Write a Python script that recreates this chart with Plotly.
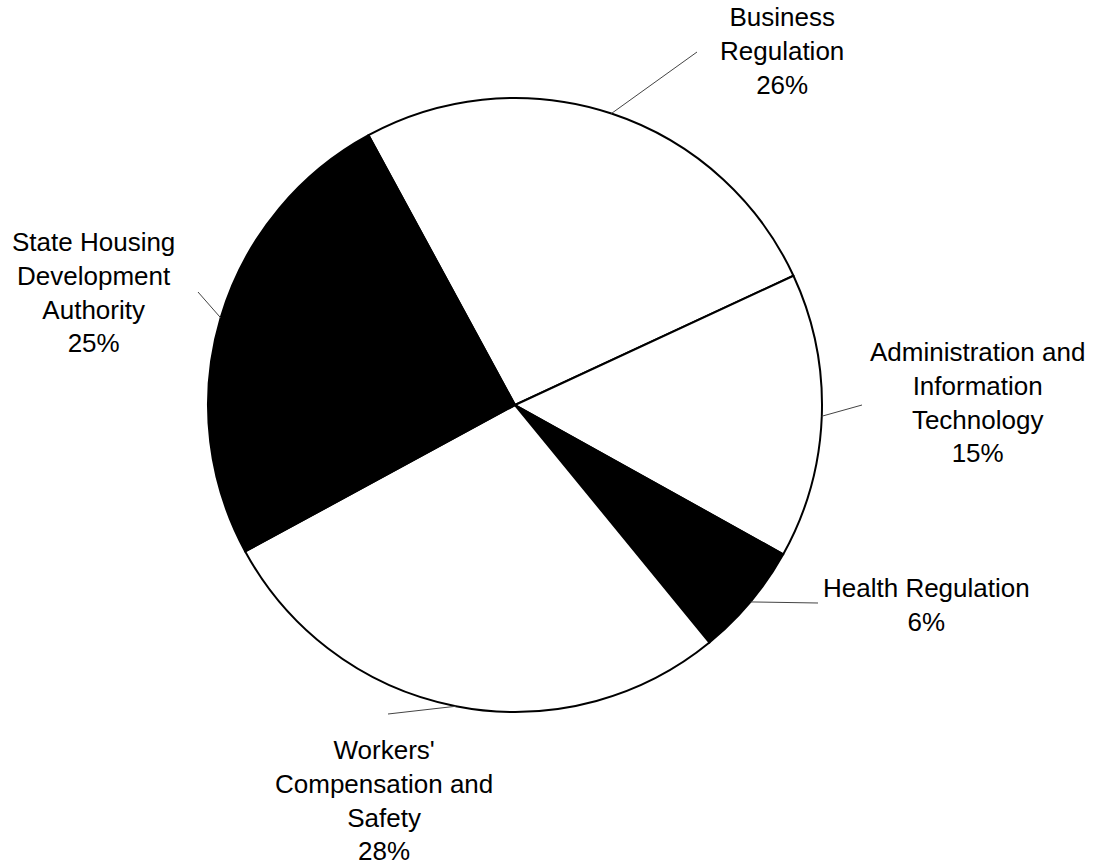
import math
import plotly.graph_objects as go

# Slice data (clockwise from the upper-left boundary)
categories = [
    "Business Regulation",
    "Administration and Information Technology",
    "Health Regulation",
    "Workers' Compensation and Safety",
    "State Housing Development Authority",
]
label_lines = [
    "Business<br>Regulation",
    "Administration and<br>Information<br>Technology",
    "Health Regulation",
    "Workers'<br>Compensation and<br>Safety",
    "State Housing<br>Development<br>Authority",
]
shares = [26, 15, 6, 28, 25]
fills = ["white", "white", "black", "white", "black"]

W, H = 1093, 865
CX, CY, R = 515, 405, 307          # pie centre and radius in pixels
ROTATION = -28.5                   # start angle of first slice (deg from 12 o'clock)

# Label placement: text block centre and leader-line outer end (pixels)
label_centre = [(782, 51), (977, 403), (926, 605), (384, 800), (93, 292)]
leader_end = [(697, 52), (862, 405), (818, 603), (388, 714), (198, 292)]

fig = go.Figure(
    go.Pie(
        labels=categories,
        values=shares,
        sort=False,
        direction="clockwise",
        rotation=ROTATION,
        marker=dict(colors=fills, line=dict(color="black", width=2)),
        textinfo="none",
        hoverinfo="label+percent",
        showlegend=False,
        domain=dict(
            x=[(CX - R) / W, (CX + R) / W],
            y=[(H - CY - R) / H, (H - CY + R) / H],
        ),
    )
)

def px_to_paper(x, y):
    return x / W, 1 - y / H

total = sum(shares)
angle = ROTATION
annotations = []
shapes = []
for i, v in enumerate(shares):
    sweep = 360 * v / total
    mid = math.radians(angle + sweep / 2)
    angle += sweep
    sx = CX + R * math.sin(mid)
    sy = CY - R * math.cos(mid)
    x0, y0 = px_to_paper(sx, sy)
    x1, y1 = px_to_paper(*leader_end[i])
    shapes.append(dict(type="line", xref="paper", yref="paper",
                       x0=x0, y0=y0, x1=x1, y1=y1,
                       line=dict(color="#444444", width=1)))
    tx, ty = px_to_paper(*label_centre[i])
    annotations.append(dict(
        x=tx, y=ty, xref="paper", yref="paper",
        text=f"{label_lines[i]}<br>{v}%",
        showarrow=False, xanchor="center", yanchor="middle", align="center",
        font=dict(family="Liberation Sans, Arial, sans-serif", size=26, color="black"),
    ))

fig.update_layout(
    width=W, height=H,
    margin=dict(l=0, r=0, t=0, b=0),
    paper_bgcolor="white",
    plot_bgcolor="white",
    annotations=annotations,
    shapes=shapes,
)

fig.write_html("out.html")
